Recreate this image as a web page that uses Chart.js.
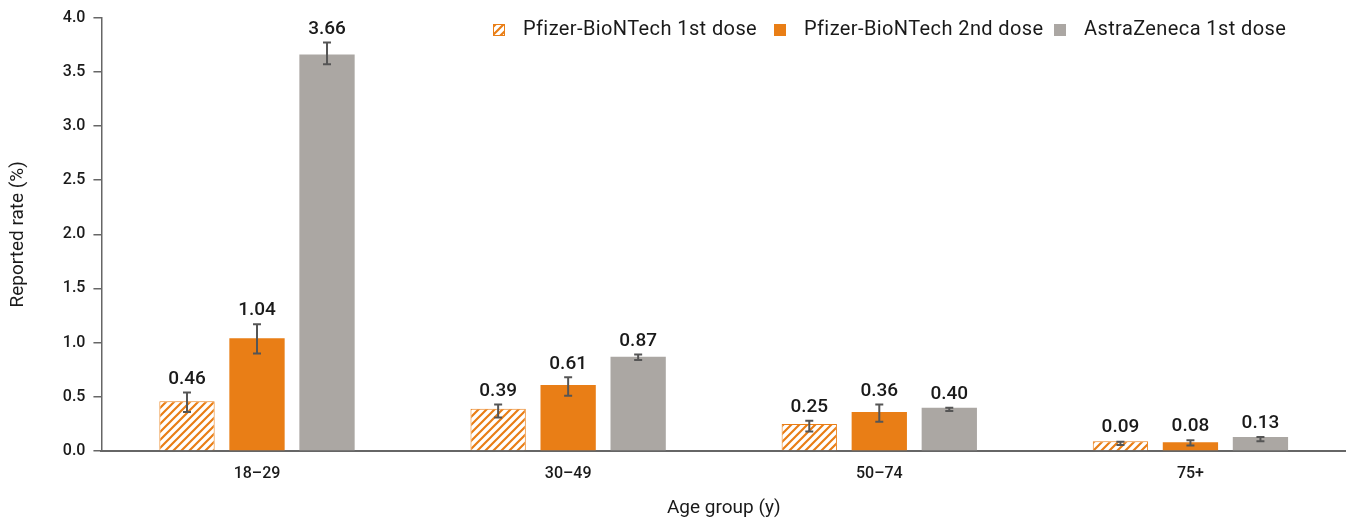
<!DOCTYPE html>
<html>
<head>
<meta charset="utf-8">
<script src="https://cdn.jsdelivr.net/npm/chart.js@4.4.0/dist/chart.umd.min.js"></script>
<style>
    html, body { margin: 0; padding: 0; background: #ffffff; }
    #wrap { width: 1346px; height: 520px; position: relative; }
</style>
</head>
<body>
<div id="wrap"><canvas id="rateChart"></canvas></div>
<script>
// Age groups and series (reported rate, %)
const ageGroups = ['18\u201329', '30\u201349', '50\u201374', '75+'];
const seriesNames = ['Pfizer-BioNTech 1st dose', 'Pfizer-BioNTech 2nd dose', 'AstraZeneca 1st dose'];

const pfizer1 = [0.46, 0.39, 0.25, 0.09];
const pfizer2 = [1.04, 0.61, 0.36, 0.08];
const astra1 = [3.66, 0.87, 0.40, 0.13];

// Error bar ends (low / high)
const pfizer1Low = [0.36, 0.31, 0.18, 0.055];
const pfizer1High = [0.54, 0.43, 0.28, 0.085];
const pfizer2Low = [0.90, 0.51, 0.27, 0.05];
const pfizer2High = [1.17, 0.68, 0.43, 0.10];
const astra1Low = [3.57, 0.84, 0.37, 0.09];
const astra1High = [3.77, 0.89, 0.40, 0.13];

const yTicks = [0, 0.5, 1.0, 1.5, 2.0, 2.5, 3.0, 3.5, 4.0];

const colors = {
    orange: '#E97E16',
    gray: '#ABA7A3',
    err: '#555555',
    text: '#1a1a1a',
    axis: '#666666'
};

// Hatched fill for the 1st-dose Pfizer bars
function makeHatch() {
    const size = 8;
    const c = document.createElement('canvas');
    c.width = size;
    c.height = size;
    const g = c.getContext('2d');
    g.fillStyle = '#ffffff';
    g.fillRect(0, 0, size, size);
    g.strokeStyle = colors.orange;
    g.lineWidth = 2.2;
    g.beginPath();
    g.moveTo(-2, size + 2); g.lineTo(size + 2, -2);
    g.moveTo(-2 - size, size + 2); g.lineTo(2, -2);
    g.moveTo(size - 2, size + 2); g.lineTo(size * 2 + 2, -2);
    g.stroke();
    return g.createPattern(c, 'repeat');
}

const hatch = makeHatch();

const errorBars = [
    { low: pfizer1Low, high: pfizer1High },
    { low: pfizer2Low, high: pfizer2High },
    { low: astra1Low, high: astra1High }
];

// Draws error bars and value labels
const errorBarPlugin = {
    id: 'errorBars',
    afterDatasetsDraw(chart) {
        const ctx = chart.ctx;
        const y = chart.scales.y;
        ctx.save();
        chart.data.datasets.forEach((ds, di) => {
            const meta = chart.getDatasetMeta(di);
            meta.data.forEach((bar, i) => {
                const yLow = y.getPixelForValue(errorBars[di].low[i]);
                const yHigh = y.getPixelForValue(errorBars[di].high[i]);
                ctx.strokeStyle = colors.err;
                ctx.lineWidth = 2;
                ctx.beginPath();
                ctx.moveTo(bar.x, yLow);
                ctx.lineTo(bar.x, yHigh);
                ctx.moveTo(bar.x - 4, yLow);
                ctx.lineTo(bar.x + 4, yLow);
                ctx.moveTo(bar.x - 4, yHigh);
                ctx.lineTo(bar.x + 4, yHigh);
                ctx.stroke();

                ctx.fillStyle = colors.text;
                ctx.font = '500 19px Roboto';
                ctx.textAlign = 'center';
                ctx.textBaseline = 'bottom';
                ctx.fillText(ds.data[i].toFixed(2), bar.x, Math.min(yHigh, bar.y) - 4);
            });
        });
        ctx.restore();
    }
};

// Legend drawn inside the plot, top right
const legendPlugin = {
    id: 'insideLegend',
    afterDraw(chart) {
        const ctx = chart.ctx;
        const fills = [hatch, colors.orange, colors.gray];
        const xs = [493, 774, 1054];
        const yMid = 30;
        ctx.save();
        ctx.font = '20px Roboto';
        ctx.letterSpacing = '0.4px';
        ctx.textBaseline = 'middle';
        ctx.textAlign = 'left';
        seriesNames.forEach((name, i) => {
            ctx.fillStyle = fills[i];
            ctx.fillRect(xs[i], yMid - 6, 12, 12);
            if (i === 0) {
                ctx.strokeStyle = colors.orange;
                ctx.lineWidth = 1;
                ctx.strokeRect(xs[i] + 0.5, yMid - 5.5, 11, 11);
            }
            ctx.fillStyle = colors.text;
            ctx.fillText(name, xs[i] + 30, yMid);
        });
        ctx.restore();
    }
};

const ctx = document.getElementById('rateChart').getContext('2d');

new Chart(ctx, {
    type: 'bar',
    data: {
        labels: ageGroups,
        datasets: [
            {
                label: seriesNames[0],
                data: pfizer1,
                backgroundColor: hatch,
                borderColor: colors.orange,
                borderWidth: 1
            },
            {
                label: seriesNames[1],
                data: pfizer2,
                backgroundColor: colors.orange
            },
            {
                label: seriesNames[2],
                data: astra1,
                backgroundColor: colors.gray
            }
        ]
    },
    options: {
        responsive: true,
        maintainAspectRatio: false,
        animation: false,
        categoryPercentage: 0.675,
        barPercentage: 0.79,
        layout: {
            padding: { top: 17, right: 0, left: 7, bottom: 0 }
        },
        plugins: {
            legend: { display: false },
            tooltip: { enabled: false }
        },
        scales: {
            x: {
                grid: { display: false },
                border: { display: true, color: colors.axis, width: 2 },
                ticks: {
                    color: colors.text,
                    font: { family: 'Roboto', size: 16, weight: '500' },
                    padding: 5
                },
                title: {
                    display: true,
                    text: 'Age group (y)',
                    color: colors.text,
                    font: { family: 'Roboto', size: 19 },
                    padding: { top: 9, bottom: 0 }
                }
            },
            y: {
                min: 0,
                max: 4,
                afterBuildTicks(axis) {
                    axis.ticks = yTicks.map(v => ({ value: v }));
                },
                grid: {
                    display: true,
                    drawOnChartArea: false,
                    drawTicks: true,
                    tickLength: 8,
                    color: colors.axis,
                    lineWidth: 1.5
                },
                border: { display: true, color: colors.axis, width: 1.5 },
                ticks: {
                    color: colors.text,
                    font: { family: 'Roboto', size: 16, weight: '500' },
                    padding: 8,
                    callback: v => Number(v).toFixed(1)
                },
                title: {
                    display: true,
                    text: 'Reported rate (%)',
                    color: colors.text,
                    font: { family: 'Roboto', size: 19 },
                    padding: { top: 0, bottom: 25 }
                }
            }
        }
    },
    plugins: [errorBarPlugin, legendPlugin]
});
</script>
</body>
</html>
